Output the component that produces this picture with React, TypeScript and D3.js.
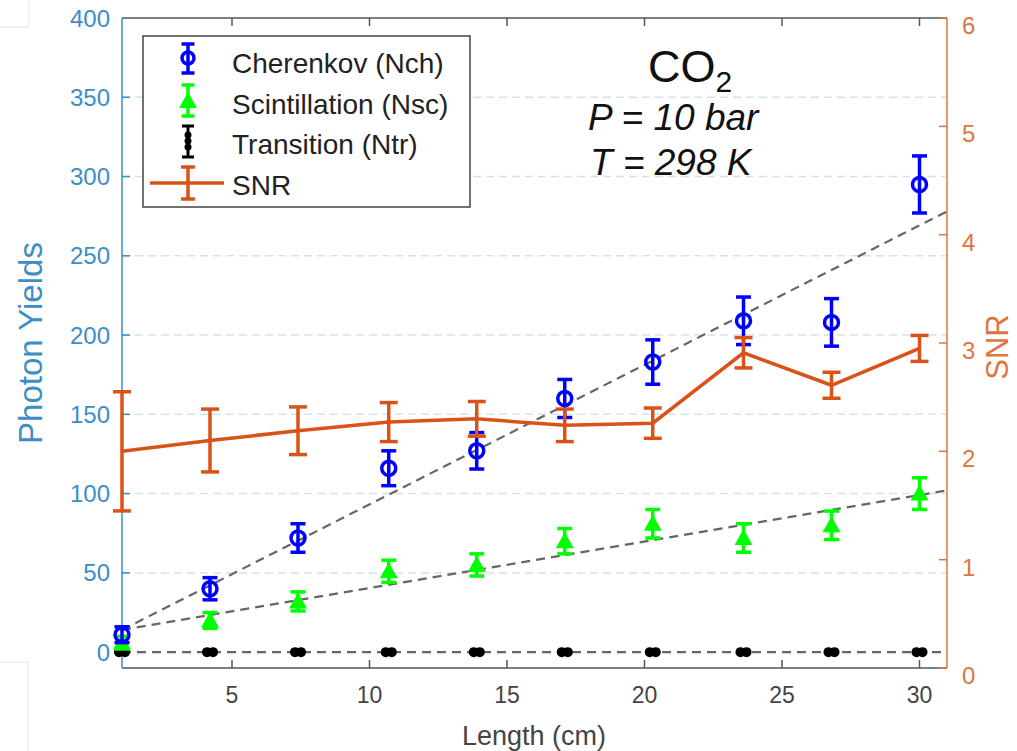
import React from 'react'
import { scaleLinear, line } from 'd3'

// lengths (cm) where the ten measurements were taken
const lengths = [1, 4.2, 7.4, 10.7, 13.9, 17.1, 20.3, 23.6, 26.8, 30]

const cherenkov = [11, 40, 72, 116, 127, 160, 183, 209, 208, 295]
const cherenkovErr = [5, 7, 9, 11, 11.5, 12, 14, 15, 15, 18]

const scint = [6, 20, 32, 51, 55, 70, 81, 72, 80, 100]
const scintErr = [4, 5, 6, 7, 7, 8, 9, 9, 9, 10]

const transition = [0, 0, 0, 0, 0, 0, 0, 0, 0, 0]
const transitionErr = [1.5, 1.5, 1.5, 1.5, 1.5, 1.5, 1.5, 1.5, 1.5, 1.5]

const snr = [2.0, 2.1, 2.19, 2.27, 2.3, 2.24, 2.26, 2.91, 2.61, 2.95]
const snrErr = [0.55, 0.29, 0.22, 0.18, 0.16, 0.15, 0.14, 0.14, 0.12, 0.12]

// linear fits drawn as dashed grey lines (end points)
const cherenkovFit = [[1, 14], [31, 278]]
const scintFit = [[1, 14], [31, 102]]
const transitionFit = [[1, 0], [31, 0]]

const xTicks = [5, 10, 15, 20, 25, 30]
const leftTicks = [0, 50, 100, 150, 200, 250, 300, 350, 400]
const rightTicks = [0, 1, 2, 3, 4, 5, 6]

const legendLabels = ['Cherenkov (Nch)', 'Scintillation (Nsc)', 'Transition (Ntr)', 'SNR']

const FONT = '"Liberation Sans", Arial, sans-serif'
const BLUE_AX = '#3d8dc6'
const ORANGE_AX = '#e0743f'
const SNR_C = '#d95319'
const GRID = '#d3e2ee'

function ErrBar({ x, y0, y1, cap, color, w }) {
  return (
    <g stroke={color} strokeWidth={w}>
      <line x1={x} x2={x} y1={y0} y2={y1} />
      <line x1={x - cap / 2} x2={x + cap / 2} y1={y0} y2={y0} />
      <line x1={x - cap / 2} x2={x + cap / 2} y1={y1} y2={y1} />
    </g>
  )
}

function Tri({ x, y, color }) {
  return <path d={`M${x},${y - 9} L${x + 9},${y + 7} L${x - 9},${y + 7} Z`} fill={color} />
}

// the transition marker looks like two overlapping dots in the scan
function BlackDot({ x, y }) {
  return (
    <g fill="black">
      <circle cx={x - 3} cy={y} r={5} />
      <circle cx={x + 3} cy={y} r={5} />
    </g>
  )
}

export default function App() {
  const x = scaleLinear().domain([1, 31]).range([122, 947])
  const yL = scaleLinear().domain([-10, 400]).range([668, 18])
  const yR = scaleLinear().domain([0, 6]).range([668, 18])

  const fitLine = line().x(d => x(d[0])).y(d => yL(d[1]))
  const snrLine = line().x((d, i) => x(lengths[i])).y(d => yR(d))

  return (
    <div style={{ position: 'absolute', left: 0, top: 0 }}>
      <svg width={1017} height={751} style={{ display: 'block', background: 'white' }} fontFamily={FONT}>
        {/* faint crop marks from the scanned figure */}
        <g stroke="#e4e4e4" strokeWidth={1}>
          <line x1={29} x2={29} y1={0} y2={27} />
          <line x1={0} x2={29} y1={27} y2={27} />
          <line x1={0} x2={28} y1={662} y2={662} />
          <line x1={28} x2={28} y1={662} y2={751} />
        </g>

        {/* grid */}
        <g stroke={GRID} strokeWidth={1.5} strokeDasharray="8 5">
          {leftTicks.filter(t => t > 0 && t < 400).map(t => (
            <line key={t} x1={x(1)} x2={x(31)} y1={yL(t)} y2={yL(t)} />
          ))}
        </g>

        {/* box */}
        <line x1={x(1)} x2={x(31)} y1={18} y2={18} stroke="#555" strokeWidth={1.5} />
        <line x1={x(1)} x2={x(31)} y1={668} y2={668} stroke="#555" strokeWidth={1.5} />
        {xTicks.map(t => (
          <g key={t} stroke="#555" strokeWidth={1.5}>
            <line x1={x(t)} x2={x(t)} y1={668} y2={660} />
            <line x1={x(t)} x2={x(t)} y1={18} y2={26} />
          </g>
        ))}
        {xTicks.map(t => (
          <text key={t} x={x(t)} y={703} fontSize={23} fill="#444" textAnchor="middle">{t}</text>
        ))}
        <text x={534} y={745} fontSize={27} fill="#444" textAnchor="middle">Length (cm)</text>

        {/* left axis */}
        <line x1={x(1)} x2={x(1)} y1={18} y2={668} stroke={BLUE_AX} strokeWidth={1.5} />
        {leftTicks.map(t => (
          <g key={t}>
            <line x1={x(1)} x2={x(1) + 8} y1={yL(t)} y2={yL(t)} stroke={BLUE_AX} strokeWidth={1.5} />
            <text x={110} y={yL(t) + 8.5} fontSize={24} fill={BLUE_AX} textAnchor="end">{t}</text>
          </g>
        ))}
        <text transform="translate(42,343) rotate(-90)" fontSize={33} fill={BLUE_AX} textAnchor="middle">Photon Yields</text>

        {/* right axis */}
        <line x1={x(31)} x2={x(31)} y1={18} y2={668} stroke={ORANGE_AX} strokeWidth={1.5} />
        {rightTicks.map(t => (
          <g key={t}>
            <line x1={x(31)} x2={x(31) - 8} y1={yR(t)} y2={yR(t)} stroke={ORANGE_AX} strokeWidth={1.5} />
            <text x={962} y={yR(t) + 16} fontSize={24} fill={ORANGE_AX}>{t}</text>
          </g>
        ))}
        <text transform="translate(1008,347) rotate(-90)" fontSize={31} fill={ORANGE_AX} textAnchor="middle">SNR</text>

        {/* fits */}
        <g stroke="#666" strokeWidth={2.2} strokeDasharray="9 6" fill="none">
          <path d={fitLine(cherenkovFit)} />
          <path d={fitLine(scintFit)} />
          <path d={fitLine(transitionFit)} />
        </g>

        {/* transition */}
        {lengths.map((l, i) => (
          <g key={'t' + i}>
            <ErrBar x={x(l)} y0={yL(transition[i] + transitionErr[i])} y1={yL(transition[i] - transitionErr[i])} cap={10} color="black" w={2.5} />
            <BlackDot x={x(l)} y={yL(transition[i])} />
          </g>
        ))}

        {/* scintillation */}
        {lengths.map((l, i) => (
          <g key={'s' + i}>
            <ErrBar x={x(l)} y0={yL(scint[i] + scintErr[i])} y1={yL(scint[i] - scintErr[i])} cap={15} color="#00ff00" w={3.5} />
            <Tri x={x(l)} y={yL(scint[i])} color="#00ff00" />
          </g>
        ))}

        {/* cherenkov */}
        {lengths.map((l, i) => (
          <g key={'c' + i}>
            <ErrBar x={x(l)} y0={yL(cherenkov[i] + cherenkovErr[i])} y1={yL(cherenkov[i] - cherenkovErr[i])} cap={15} color="#0000ff" w={3.5} />
            <circle cx={x(l)} cy={yL(cherenkov[i])} r={7} fill="none" stroke="#0000ff" strokeWidth={3.5} />
          </g>
        ))}

        {/* SNR */}
        <path d={snrLine(snr)} fill="none" stroke={SNR_C} strokeWidth={3.5} />
        {lengths.map((l, i) => (
          <ErrBar key={'n' + i} x={x(l)} y0={yR(snr[i] + snrErr[i])} y1={yR(snr[i] - snrErr[i])} cap={18} color={SNR_C} w={3.5} />
        ))}

        {/* legend */}
        <rect x={143} y={36} width={327} height={171} fill="white" stroke="#444" strokeWidth={1.5} />
        <ErrBar x={188} y0={44} y1={73} cap={13} color="#0000ff" w={3.5} />
        <circle cx={188} cy={58} r={6} fill="none" stroke="#0000ff" strokeWidth={3.5} />
        <ErrBar x={188} y0={85} y1={116} cap={13} color="#00ff00" w={3.5} />
        <Tri x={188} y={101} color="#00ff00" />
        <ErrBar x={188} y0={126} y1={157} cap={12} color="black" w={3} />
        <g fill="black">
          <circle cx={188} cy={135} r={3.5} />
          <circle cx={188} cy={141} r={3.5} />
          <circle cx={188} cy={147} r={3.5} />
        </g>
        <line x1={150} x2={224} y1={183} y2={183} stroke={SNR_C} strokeWidth={3.5} />
        <ErrBar x={188} y0={167} y1={199} cap={14} color={SNR_C} w={3.5} />
        {legendLabels.map((t, i) => (
          <text key={t} x={232} y={73 + i * 40.5} fontSize={28} fill="#222">{t}</text>
        ))}

        {/* annotation */}
        <text x={648} y={82} fontSize={45} fill="#111">CO<tspan fontSize={30} dy={10}>2</tspan></text>
        <text x={588} y={130} fontSize={37} fontStyle="italic" fill="#111">P = 10 bar</text>
        <text x={590} y={175} fontSize={37} fontStyle="italic" fill="#111">T = 298 K</text>
      </svg>
    </div>
  )
}
